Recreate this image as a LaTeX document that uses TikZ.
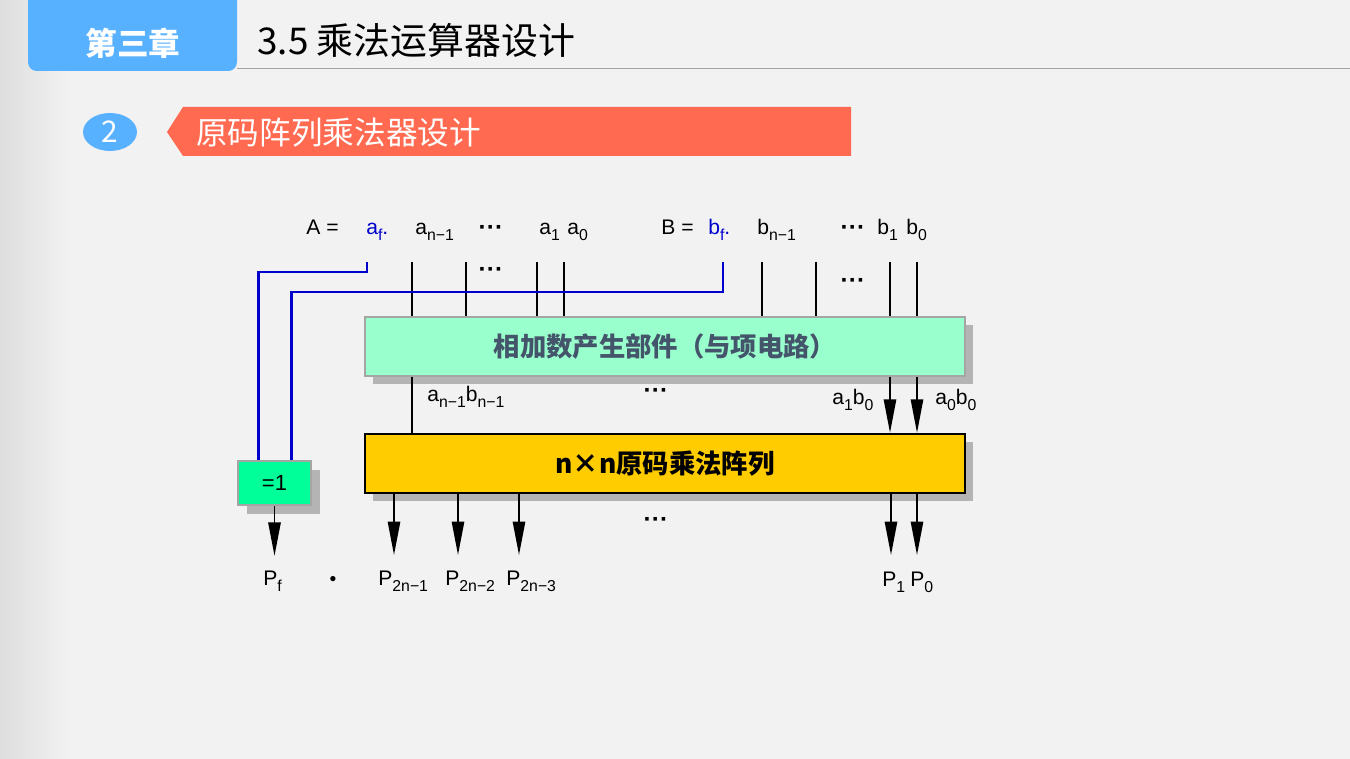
\documentclass[tikz,border=0pt]{standalone}
\usepackage{fontspec}
\setmainfont{Liberation Sans}
\newfontfamily\cjk{Noto Sans CJK SC}
\usetikzlibrary{positioning, arrows.meta, shapes.geometric, shadows}
\definecolor{tabblue}{RGB}{88, 177, 255}
\definecolor{bannerred}{RGB}{255, 106, 80}
\definecolor{wireblue}{RGB}{0, 0, 204}
\definecolor{addgreen}{RGB}{153, 255, 204}
\definecolor{xorgreen}{RGB}{0, 255, 153}
\definecolor{arrayyellow}{RGB}{255, 204, 0}
\definecolor{slatetext}{RGB}{68, 84, 106}
\definecolor{bggray}{RGB}{242, 242, 242}
\definecolor{rulegray}{RGB}{165, 165, 165}
\definecolor{shadowgray}{RGB}{180, 180, 180}
\newcommand{\sbs}[1]{\raisebox{-0.27em}{\fontsize{9}{10}\selectfont #1}}

\begin{document}
\begin{tikzpicture}[x=0.02cm, y=-0.02cm,
        lbl/.style={anchor=base west, inner sep=0pt, font=\fontsize{12}{14}\selectfont},
        dots/.style={anchor=base, inner sep=0pt, font=\bfseries\fontsize{14}{16}\selectfont},
        wire/.style={line width=1pt},
        bwire/.style={line width=1.3pt, wireblue},
        arr/.style={line width=1pt, -{Triangle[length=19pt, width=7pt]}},
        unit/.style={minimum width=12cm, minimum height=1.18cm, inner sep=0pt,
                     drop shadow={shadow xshift=0.16cm, shadow yshift=-0.16cm, fill=shadowgray, opacity=1}},
        boxfont/.style={font=\cjk\bfseries\fontsize{15}{18}\selectfont}
      ]
        \useasboundingbox (0,0) rectangle (1350,759);
        \fill[bggray] (0,0) rectangle (1350,759);
        \shade[left color=black!13, right color=bggray] (0,0) rectangle (70,759);

        \fill[tabblue, rounded corners=5pt] (28,-10) rectangle (237,71);
        \node[text=white, font=\cjk\bfseries\fontsize{18}{20}\selectfont] (chap) at (133,43) {第三章};
        \node[anchor=west, inner sep=0pt, font=\cjk\fontsize{21}{24}\selectfont] (title) at (257,40) {3.5 乘法运算器设计};
        \draw[rulegray, line width=1pt] (237,68.5) -- (1350,68.5);

        \node[ellipse, fill=tabblue, minimum width=1.08cm, minimum height=0.76cm, inner sep=0pt,
              text=white, font=\cjk\fontsize{17}{20}\selectfont] (num) at (110,132) {2};
        \fill[bannerred] (167,132) -- (183,107) -- (851,107) -- (851,156) -- (183,156) -- cycle;
        \node[anchor=west, inner sep=0pt, text=white, font=\cjk\fontsize{18}{20}\selectfont] (sec) at (196,133) {原码阵列乘法器设计};

        \node[lbl] (A) at (306,235) {A =};
        \node[lbl, text=wireblue] (af) at (366,235) {a\sbs{f}.};
        \node[lbl] (an1) at (415,235) {a\sbs{n−1}};
        \node[dots] (adots) at (491,236) {···};
        \node[lbl] (a1) at (539,235) {a\sbs{1}};
        \node[lbl] (a0) at (567,235) {a\sbs{0}};
        \node[lbl] (B) at (661,235) {B =};
        \node[lbl, text=wireblue] (bf) at (708,235) {b\sbs{f}.};
        \node[lbl] (bn1) at (757,235) {b\sbs{n−1}};
        \node[dots] (bdots) at (853,236) {···};
        \node[lbl] (b1) at (877,235) {b\sbs{1}};
        \node[lbl] (b0) at (906,235) {b\sbs{0}};
        \node[dots] (adots2) at (491,278) {···};
        \node[dots] (bdots2) at (853,289) {···};

        \node[unit, draw=rulegray, line width=0.8pt, fill=addgreen, text=slatetext, boxfont] (add) at (665,346.5) {相加数产生部件（与项电路）};
        \node[unit, draw=black, line width=1.4pt, fill=arrayyellow, boxfont] (prod) at (665,463.5) {n×n原码乘法阵列};
        \node[draw=rulegray, line width=1pt, fill=xorgreen, minimum width=1.46cm, minimum height=0.88cm,
              drop shadow={shadow xshift=0.18cm, shadow yshift=-0.18cm, fill=shadowgray, opacity=1},
              font=\fontsize{12.5}{15}\selectfont] (xor) at (274.5,483) {=1};

        \foreach \x in {412,466,537,564,762,816,890,917} {
          \coordinate (top\x) at (\x,262);
          \draw[wire] (top\x) -- (top\x |- add.north);
        }
        \coordinate (taf) at (367,262);
        \coordinate (tbf) at (723,262);
        \draw[bwire] (taf) -- ++(0,10) -| ([xshift=-0.32cm]xor.north);
        \draw[bwire] (tbf) -- ++(0,30) -| ([xshift=0.34cm]xor.north);

        \draw[wire] (top412 |- add.south) -- (top412 |- prod.north);
        \draw[arr] (top890 |- add.south) -- (top890 |- prod.north);
        \draw[arr] (top917 |- add.south) -- (top917 |- prod.north);
        \node[lbl] (ab) at (427,402) {a\sbs{n−1}b\sbs{n−1}};
        \node[dots] (mdots) at (656,399) {···};
        \node[lbl] (a1b0) at (832,405) {a\sbs{1}b\sbs{0}};
        \node[lbl] (a0b0) at (935,405) {a\sbs{0}b\sbs{0}};

        \foreach \x in {394,458,519,891,917} {
          \coordinate (out\x) at (\x,555);
          \draw[arr] (out\x |- prod.south) -- (out\x);
        }
        \draw[arr] (xor.south) -- ++(0,50);
        \node[dots] (odots) at (656,528) {···};

        \node[lbl] (Pf) at (263,586) {P\sbs{f}};
        \node[inner sep=0pt, font=\fontsize{11}{13}\selectfont] (pt) at (333,581) {•};
        \node[lbl] (P2n1) at (378,586) {P\sbs{2n−1}};
        \node[lbl] (P2n2) at (445,586) {P\sbs{2n−2}};
        \node[lbl] (P2n3) at (506,586) {P\sbs{2n−3}};
        \node[lbl] (P1) at (882,587) {P\sbs{1}};
        \node[lbl] (P0) at (910,587) {P\sbs{0}};
      \end{tikzpicture}
\end{document}
